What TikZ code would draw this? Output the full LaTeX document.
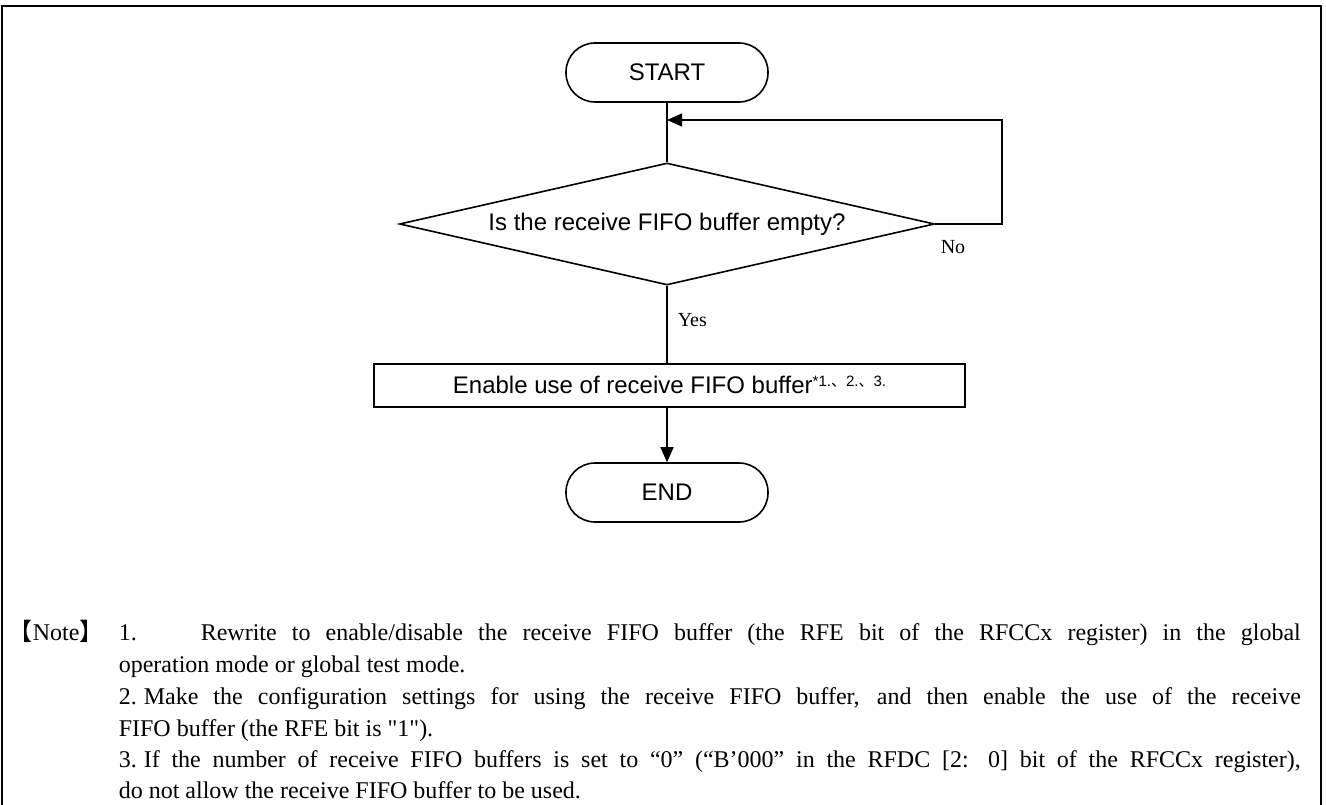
\documentclass[tikz,border=0pt]{standalone}
\usepackage{fontspec}
\setmainfont{Liberation Serif}
\newfontfamily\rawserif{Liberation Serif}[Ligatures=ResetAll]
\newfontfamily\arialfont{Liberation Sans}
\newfontfamily\cjkfont{Noto Sans CJK JP}
\usetikzlibrary{shapes.geometric,arrows.meta}

\begin{document}
\begin{tikzpicture}[x=1pt,y=-1pt,line width=1.6pt,
  chartfont/.style={font=\arialfont\fontsize{24}{28}\selectfont},
  terminal/.style={draw,chartfont,rounded corners=29pt,minimum width=202pt,minimum height=59pt,inner sep=0pt},
  decision/.style={draw,chartfont,diamond,aspect=4.385,minimum width=535pt,minimum height=122pt,inner sep=0pt},
  process/.style={draw,chartfont,rectangle,minimum width=591pt,minimum height=43pt,inner sep=0pt},
  flow/.style={-{Triangle[length=15pt,width=13pt]}},
  branch/.style={font=\fontsize{20}{24}\selectfont,inner sep=0pt},
  notetext/.style={font=\fontsize{24}{28}\selectfont,inner sep=0pt,anchor=base west}]

% page area and frame
\useasboundingbox (0,0) rectangle (1326,805);
\draw[line width=2.6pt] (2,805) -- (2,6) -- (1321,6) -- (1321,805);

% flowchart nodes
\node[terminal] (start) at (667,72.5) {START};
\node[decision] (test) at (667,224) {Is the receive FIFO buffer empty?};
\node[process] (enable) at (669.5,385.5)
  {\raisebox{1.5pt}{Enable use of receive FIFO buffer\raisebox{7pt}{\fontsize{15}{15}\selectfont *1.{\cjkfont 、}2.{\cjkfont 、}3.}}};
\node[terminal] (finish) at (667,492.5) {END};

% loop-back junction
\coordinate (merge) at (667,120);
\coordinate (loopcorner) at (1002,224);
\coordinate (looptop) at (1002,120);

% connectors
\draw (start.south) -- (test.north);
\draw[flow] (test.east) -- (loopcorner) -- (looptop) -- (merge);
\draw (test.south) -- (enable.north -| test.south);
\draw[flow] (enable.south -| finish.north) -- (finish.north);

% branch labels
\node[branch,anchor=west] (nolabel) at (940,247) {No};
\node[branch,anchor=west] (yeslabel) at (677,320) {Yes};

% notes
\node[notetext] (notehead) at (8,640) {{\cjkfont 【}Note{\cjkfont 】}};
\node[notetext] (n1num) at (118,640) {1.};
\node[notetext] (n1a) at (200,640) {\makebox[1100pt][s]{Rewrite to enable/disable the receive FIFO buffer (the RFE bit of the RFCCx register) in the global}};
\node[notetext] (n1b) at (118,672) {operation mode or global test mode.};
\node[notetext] (n2num) at (118,704) {2.};
\node[notetext] (n2a) at (143,704) {\makebox[1157pt][s]{Make the configuration settings for using the receive FIFO buffer, and then enable the use of the receive}};
\node[notetext] (n2b) at (118,736) {FIFO buffer (the RFE bit is {\rawserif "1"}).};
\node[notetext] (n3num) at (118,767) {3.};
\node[notetext] (n3a) at (143,767) {\makebox[1157pt][s]{If the number of receive FIFO buffers is set to “0” (“B’000” in the RFDC [2: 0] bit of the RFCCx register),}};
\node[notetext] (n3b) at (118,798) {do not allow the receive FIFO buffer to be used.};
\end{tikzpicture}
\end{document}
